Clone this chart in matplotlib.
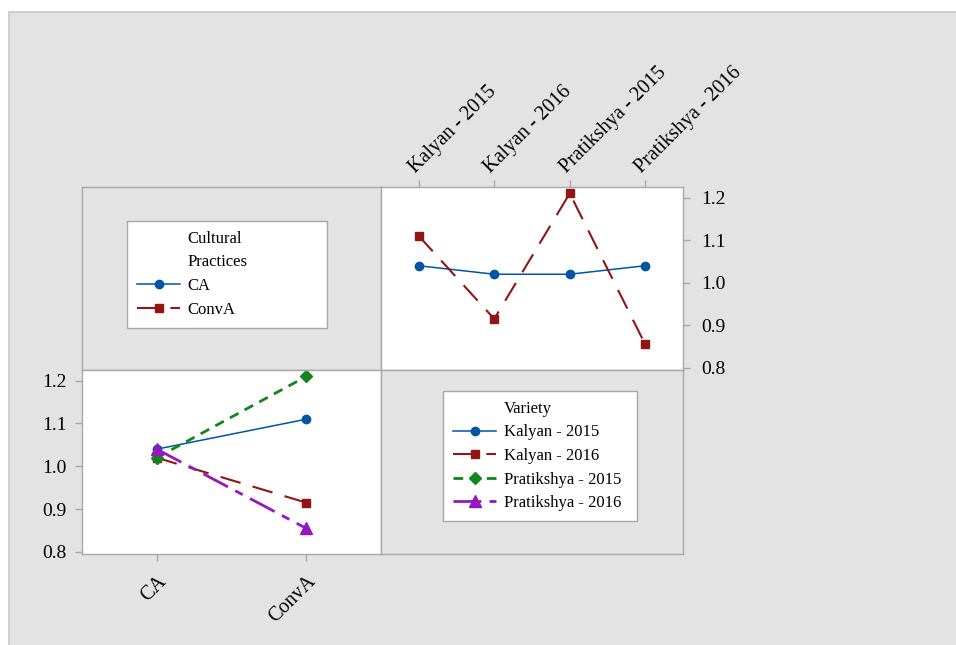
import matplotlib.pyplot as plt
from matplotlib.lines import Line2D
from matplotlib.patches import Rectangle

plt.rcParams['font.family'] = ['Liberation Serif', 'DejaVu Serif']

# data: means by variety (x) for each cultural practice
varieties = ['Kalyan - 2015', 'Kalyan - 2016', 'Pratikshya - 2015', 'Pratikshya - 2016']
practices = ['CA', 'ConvA']
ca_vals = [1.04, 1.02, 1.02, 1.04]
conva_vals = [1.11, 0.915, 1.21, 0.855]

W, H = 956, 645
fig = plt.figure(figsize=(W / 100, H / 100), dpi=100)
fig.patch.set_facecolor('white')
fig.patches.append(Rectangle((9 / W, -0.05), 1.1, (H - 12) / H + 0.05, transform=fig.transFigure,
                             facecolor='#e3e3e3', edgecolor='#c8c8c8', lw=1.2, zorder=-10))

grey = '#a8a8a8'
bg = '#e3e3e3'


def pix_axes(x0, y0, x1, y1):
    return fig.add_axes([x0 / W, 1 - y1 / H, (x1 - x0) / W, (y1 - y0) / H])


def style(ax, face):
    ax.set_facecolor(face)
    for s in ax.spines.values():
        s.set_color(grey)
        s.set_linewidth(1)
    ax.tick_params(color=grey, length=5, width=1, labelsize=14, labelcolor='black')


# styles per practice and per variety
prac_style = {
    'CA': dict(color='#0055a5', marker='o', ms=6, lw=1.1, ls='-'),
    'ConvA': dict(color='#921414', marker='s', ms=6, lw=1.5, ls=(0, (10, 6))),
}
var_style = {
    'Kalyan - 2015': dict(color='#0055a5', marker='o', ms=6, lw=1.1, ls='-'),
    'Kalyan - 2016': dict(color='#921414', marker='s', ms=6, lw=1.5, ls=(0, (10, 6))),
    'Pratikshya - 2015': dict(color='#12851c', marker='D', ms=6, lw=2, ls=(0, (3.5, 2.5))),
    'Pratikshya - 2016': dict(color='#9417c0', marker='^', ms=9, lw=2, ls=(0, (10, 3, 3, 3))),
}

ylim = (0.795, 1.225)
yt = [0.8, 0.9, 1.0, 1.1, 1.2]

# top-left: legend for cultural practices
ax_tl = pix_axes(82, 187, 381, 370)
style(ax_tl, bg)
ax_tl.set_xticks([])
ax_tl.set_yticks([])

# top-right: variety on x, practice as lines
ax_tr = pix_axes(381, 187, 683, 370)
style(ax_tr, 'white')
x = range(len(varieties))
ax_tr.plot(x, ca_vals, **prac_style['CA'])
ax_tr.plot(x, conva_vals, **prac_style['ConvA'])
ax_tr.set_xlim(-0.5, 3.5)
ax_tr.set_ylim(*ylim)
ax_tr.set_yticks(yt)
ax_tr.set_yticklabels([f'{v:.1f}' for v in yt])
ax_tr.yaxis.tick_right()
ax_tr.xaxis.tick_top()
ax_tr.set_xticks(list(x))
ax_tr.set_xticklabels(varieties, rotation=45, ha='left', va='bottom', rotation_mode='anchor',
                      fontsize=14.5)
ax_tr.tick_params(axis='y', pad=8)
ax_tr.tick_params(axis='x', pad=2)

# bottom-left: practice on x, variety as lines
ax_bl = pix_axes(82, 370, 381, 554)
style(ax_bl, 'white')
rows = list(zip(ca_vals, conva_vals))
for name, vals in zip(varieties, rows):
    ax_bl.plot([0, 1], vals, **var_style[name])
ax_bl.set_xlim(-0.5, 1.5)
ax_bl.set_ylim(*ylim)
ax_bl.set_yticks(yt)
ax_bl.set_yticklabels([f'{v:.1f}' for v in yt])
ax_bl.set_xticks([0, 1])
ax_bl.set_xticklabels(practices, rotation=45, ha='right', va='top', rotation_mode='anchor',
                      fontsize=14.5)
ax_bl.tick_params(axis='y', pad=6)
ax_bl.tick_params(axis='x', pad=8)

# bottom-right: legend for variety
ax_br = pix_axes(381, 370, 683, 554)
style(ax_br, bg)
ax_br.set_xticks([])
ax_br.set_yticks([])

blank = Line2D([], [], ls='none')
common = dict(loc='upper left', mode='expand', fontsize=12, frameon=True, fancybox=False,
              framealpha=1, facecolor='white', edgecolor=grey, handlelength=2.6,
              labelspacing=0.45, borderpad=0.6, handletextpad=0.45, borderaxespad=0)

h1 = [blank, blank] + [Line2D([], [], **prac_style[p]) for p in practices]
l1 = ['Cultural', 'Practices'] + practices
leg1 = ax_tl.legend(h1, l1, bbox_to_anchor=(45 / 299, 1 - 34 / 183, 200 / 299, 0.0), **common)

h2 = [blank] + [Line2D([], [], **var_style[v]) for v in varieties]
l2 = ['Variety'] + varieties
leg2 = ax_br.legend(h2, l2, bbox_to_anchor=(62 / 302, 1 - 21 / 184, 194 / 302, 0.0), **common)

fig.savefig('out.png', dpi=100)
